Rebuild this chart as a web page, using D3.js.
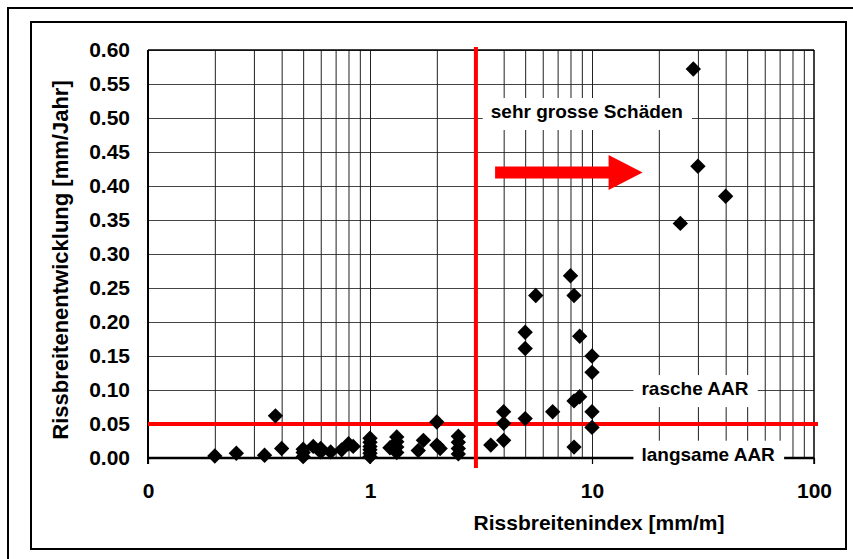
<!DOCTYPE html>
<html><head><meta charset="utf-8">
<script src="https://cdn.jsdelivr.net/npm/d3@7"></script>
<style>
body{margin:0;background:#fff}
svg{display:block}
text{font-family:"Liberation Sans",Arial,sans-serif;font-weight:bold;fill:#000}
</style>
</head><body>
<svg id="c" width="853" height="559"></svg>
<script>
// ---- data ----
const rissIndex = [0.2,0.25,0.335,0.375,0.4,0.5,0.5,0.5,0.555,0.6,0.6,0.665,0.745,0.8,0.84,
  1,1,1,1,1,1,1.23,1.32,1.32,1.32,1.32,1.65,1.74,2,2,2.07,2.5,2.5,2.5,2.5,
  3.5,4,4,4,5,5,5,5.58,6.65,8,8.3,8.3,8.3,8.8,8.8,10,10,10,10,25,28.6,30,40];
const rissEntwicklung = [0.003,0.007,0.004,0.062,0.014,0.013,0.008,0.002,0.017,0.014,0.009,0.009,0.012,0.021,0.017,
  0.029,0.023,0.017,0.012,0.007,0.002,0.015,0.031,0.024,0.016,0.008,0.011,0.026,0.053,0.019,0.014,0.032,0.023,0.014,0.006,
  0.019,0.068,0.051,0.026,0.185,0.161,0.058,0.239,0.068,0.268,0.239,0.084,0.016,0.179,0.090,0.150,0.126,0.068,0.045,0.345,0.572,0.429,0.385];
const yTickValues = [0,0.05,0.10,0.15,0.20,0.25,0.30,0.35,0.40,0.45,0.50,0.55,0.60];
const xTickValues = [0.1,1,10,100];
const xTickLabels = ["0","1","10","100"];
const xTitle = "Rissbreitenindex [mm/m]";
const yTitle = "Rissbreitenentwicklung [mm/Jahr]";
const thresholdX = 3, thresholdY = 0.05;
const annotations = [
  {text:"sehr grosse Schäden", x:3.5, y:0.50},
  {text:"rasche AAR", x:16.7, y:0.0925},
  {text:"langsame AAR", x:16.7, y:-0.004}
];
const arrow = {x0:3.66, x1:16.9, y:0.42};

// ---- layout ----
const L=148, R=814, T=50, B=458;
const svg = d3.select("#c");
const x = d3.scaleLog().domain([0.1,100]).range([L,R]);
const y = d3.scaleLinear().domain([0,0.6]).range([B,T]);

// frames
svg.append("path").attr("d","M8,560 V8 H854").attr("fill","none").attr("stroke","#000").attr("stroke-width",2);
svg.append("rect").attr("x",31).attr("y",22).attr("width",815).attr("height",527)
  .attr("fill","none").attr("stroke","#000").attr("stroke-width",2);

// horizontal grid + y labels
const gy = svg.append("g").attr("transform",`translate(${L},0)`)
  .call(d3.axisLeft(y).tickValues(yTickValues).tickSize(-(R-L)).tickPadding(18).tickFormat(d3.format(".2f")));
gy.select(".domain").remove();
gy.selectAll(".tick line").attr("stroke","#444").attr("stroke-width",1.2);
gy.selectAll(".tick text").style("font-size","21px").style("font-family","Liberation Sans, Arial, sans-serif").style("font-weight","bold").attr("fill","#000");

// vertical grid
const gridVals = x.ticks().filter(v => v>0.1 && v<100);
const gx = svg.append("g").attr("transform",`translate(0,${B})`)
  .call(d3.axisBottom(x).tickValues(gridVals).tickSize(-(B-T)).tickFormat(""));
gx.select(".domain").remove();
gx.selectAll(".tick line").attr("stroke","#222").attr("stroke-width",1);

// x labels + major ticks
const gxl = svg.append("g").attr("transform",`translate(0,${B})`)
  .call(d3.axisBottom(x).tickValues(xTickValues).tickSize(6).tickPadding(19).tickFormat((d,i)=>xTickLabels[i]));
gxl.select(".domain").remove();
gxl.selectAll(".tick line").attr("stroke","#000").attr("stroke-width",1.2);
gxl.selectAll(".tick text").style("font-size","21px").style("font-family","Liberation Sans, Arial, sans-serif").style("font-weight","bold").attr("fill","#000");

// plot borders
svg.append("line").attr("x1",L).attr("x2",R).attr("y1",T).attr("y2",T).attr("stroke","#000").attr("stroke-width",1.5);
svg.append("line").attr("x1",R).attr("x2",R).attr("y1",T).attr("y2",B+6).attr("stroke","#000").attr("stroke-width",1.5);
svg.append("line").attr("x1",L).attr("x2",L).attr("y1",T).attr("y2",B+6).attr("stroke","#000").attr("stroke-width",2);
svg.append("line").attr("x1",L).attr("x2",R).attr("y1",B).attr("y2",B).attr("stroke","#000").attr("stroke-width",2.5);

// annotation labels with white boxes
annotations.forEach(a => {
  const g = svg.append("g");
  const box = g.append("rect").attr("fill","#fff");
  const t = g.append("text").attr("x",x(a.x)).attr("y",y(a.y)).style("font-size","19px").text(a.text);
  const bb = t.node().getBBox();
  box.attr("x",bb.x-8).attr("y",bb.y-3).attr("width",bb.width+17).attr("height",bb.height+11);
});

// threshold lines
svg.append("line").attr("x1",x(thresholdX)).attr("x2",x(thresholdX)).attr("y1",T-3).attr("y2",B+10)
  .attr("stroke","#ff0000").attr("stroke-width",4);
svg.append("line").attr("x1",L).attr("x2",R+4).attr("y1",y(thresholdY)).attr("y2",y(thresholdY))
  .attr("stroke","#ff0000").attr("stroke-width",4);

// arrow
{
  const ax0=x(arrow.x0), ax1=x(arrow.x1), ay=y(arrow.y);
  const hl=34, sw=6, hw=17.5;
  svg.append("path").attr("fill","#ff0000")
    .attr("d",`M${ax0},${ay-sw} H${ax1-hl} V${ay-hw} L${ax1},${ay} L${ax1-hl},${ay+hw} V${ay+sw} H${ax0} Z`);
}

// points
const sym = d3.symbol().type(d3.symbolSquare).size(118);
svg.append("g").selectAll("path").data(rissIndex.map((v,i)=>[v,rissEntwicklung[i]])).join("path")
  .attr("d",sym).attr("fill","#000")
  .attr("transform",d=>`translate(${x(d[0])},${y(d[1])}) rotate(45)`);

// axis titles
svg.append("text").attr("x",599).attr("y",530).attr("text-anchor","middle").style("font-size","21px").text(xTitle);
svg.append("text").attr("transform","translate(68,260) rotate(-90)").attr("text-anchor","middle").style("font-size","22px").text(yTitle);
</script>
</body></html>
